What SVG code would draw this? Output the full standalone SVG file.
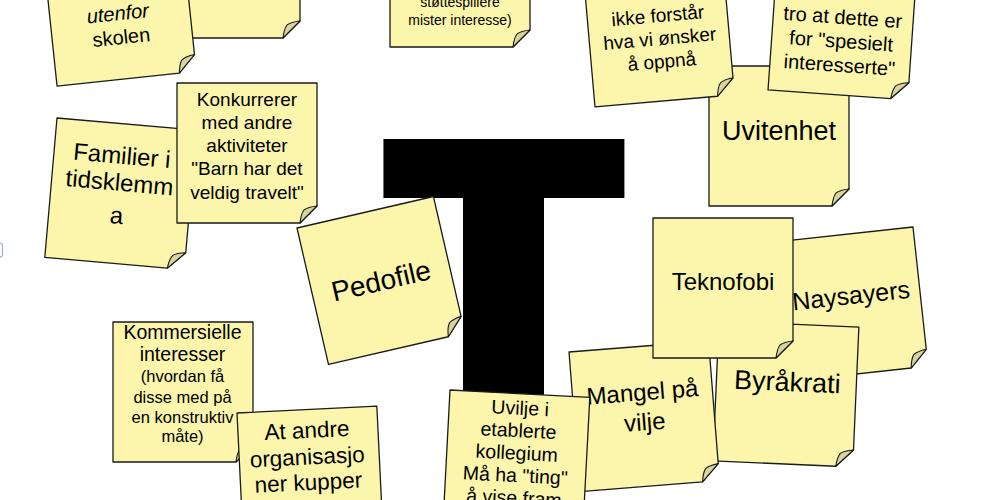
<svg xmlns="http://www.w3.org/2000/svg" xmlns:xlink="http://www.w3.org/1999/xlink" width="1000" height="500" viewBox="0 0 1000 500">
<style>
.paper{fill:#FBF6AB;stroke:#1a1a1a;stroke-width:1.3;stroke-linejoin:round}
.curl{fill:#D9D49B;stroke:#1a1a1a;stroke-width:1.1;stroke-linejoin:round}
text{font-family:"Liberation Sans",Arial,sans-serif;fill:#000;text-anchor:middle}
.big{font-family:"DejaVu Sans",sans-serif;font-weight:bold;stroke:#000;stroke-linejoin:miter}
</style>
<defs>
<path id="paper" d="M0,0 H140 V123 L123,140 H0 Z"/>
<path id="curl" d="M140,123 Q131,124 127,127 Q124,131 123,140 Z"/>
<clipPath id="t-window">
<rect x="0" y="0" width="1000" height="198"/>
<rect x="463" y="0" width="81" height="500"/>
</clipPath>
</defs>
<rect x="0" y="0" width="1000" height="500" fill="#fff"/>
<rect x="-4" y="243" width="6.5" height="14" rx="2.5" fill="none" stroke="#8FB0E0" stroke-width="1.2"/>
<g id="connectors"/>

<g id="note-top" transform="translate(160,-102)">
<use href="#paper" class="paper"/><use href="#curl" class="curl"/>
</g>
<g id="note-utenfor" transform="translate(42.4,-53.2) rotate(-6)">
<use href="#paper" class="paper"/><use href="#curl" class="curl"/>
<text x="68" y="81" font-size="20" font-style="italic">utenfor</text>
<text x="69" y="105" font-size="20">skolen</text>
</g>
<g id="note-stottespillere" transform="translate(390,-93)">
<use href="#paper" class="paper"/><use href="#curl" class="curl"/>
<text x="70" y="100" font-size="14">støttespillere</text>
<text x="70" y="118" font-size="14">mister interesse)</text>
</g>
<g id="note-uvitenhet" transform="translate(709,66)">
<use href="#paper" class="paper"/><use href="#curl" class="curl"/>
<text x="70" y="74" font-size="27">Uvitenhet</text>
</g>
<g id="note-ikke-forstar" transform="translate(582.8,-32.5) rotate(-5)">
<use href="#paper" class="paper"/><use href="#curl" class="curl"/>
<text x="70.5" y="61" font-size="19">ikke forstår</text>
<text x="70.5" y="84" font-size="19">hva vi ønsker</text>
<text x="70.5" y="107" font-size="19">å oppnå</text>
</g>
<g id="note-spesielt" transform="translate(777.8,-49.7) rotate(4)">
<use href="#paper" class="paper"/><use href="#curl" class="curl"/>
<text x="69.5" y="69" font-size="20">tro at dette er</text>
<text x="69.5" y="93" font-size="20">for "spesielt</text>
<text x="69.5" y="117" font-size="20">interesserte"</text>
</g>
<g id="note-familier" transform="translate(57,118) rotate(5)">
<use href="#paper" class="paper"/><use href="#curl" class="curl"/>
<text x="68" y="40" font-size="24">Familier i</text>
<text x="68" y="67" font-size="24">tidsklemm</text>
<text x="68" y="100" font-size="24">a</text>
</g>
<g id="note-konkurrerer" transform="translate(177,83)">
<use href="#paper" class="paper"/><use href="#curl" class="curl"/>
<text x="70" y="22.8" font-size="19">Konkurrerer</text>
<text x="70" y="46" font-size="19">med andre</text>
<text x="70" y="69.2" font-size="19">aktiviteter</text>
<text x="70" y="92.4" font-size="19">"Barn har det</text>
<text x="70" y="115.6" font-size="19">veldig travelt"</text>
</g>
<g id="letter-t" clip-path="url(#t-window)">
<text class="big" x="504" y="384.2" font-size="317" stroke-width="28">T</text>
</g>
<g id="note-pedofile" transform="translate(297,228) rotate(-13)">
<use href="#paper" class="paper"/><use href="#curl" class="curl"/>
<text x="70" y="80" font-size="28">Pedofile</text>
</g>
<g id="note-kommersielle" transform="translate(113,322)">
<use href="#paper" class="paper"/><use href="#curl" class="curl"/>
<text x="69.5" y="16.5" font-size="19.5">Kommersielle</text>
<text x="69.5" y="38.7" font-size="19.5">interesser</text>
<text x="69.5" y="59.7" font-size="16.5">(hvordan få</text>
<text x="69.5" y="81" font-size="16.5">disse med på</text>
<text x="69.5" y="101" font-size="16.5">en konstruktiv</text>
<text x="69.5" y="120" font-size="16.5">måte)</text>
</g>
<g id="note-at-andre" transform="translate(237,413) rotate(-2.8)">
<use href="#paper" class="paper"/><use href="#curl" class="curl"/>
<text x="69" y="28.4" font-size="22.5">At andre</text>
<text x="68" y="55" font-size="22.5">organisasjo</text>
<text x="68" y="80.5" font-size="22.5">ner kupper</text>
</g>
<g id="note-naysayers" transform="translate(773.8,242.1) rotate(-6.2)">
<use href="#paper" class="paper"/><use href="#curl" class="curl"/>
<text x="71" y="70" font-size="25">Naysayers</text>
</g>
<g id="note-byrakrati" transform="translate(719,321) rotate(2.5)">
<use href="#paper" class="paper"/><use href="#curl" class="curl"/>
<text x="71" y="67" font-size="27">Byråkrati</text>
</g>
<g id="note-mangel" transform="translate(569,352) rotate(-4.5)">
<use href="#paper" class="paper"/><use href="#curl" class="curl"/>
<text x="70" y="54" font-size="24">Mangel på</text>
<text x="70" y="84" font-size="24">vilje</text>
</g>
<g id="note-teknofobi" transform="translate(653,218)">
<use href="#paper" class="paper"/><use href="#curl" class="curl"/>
<text x="70" y="72" font-size="24">Teknofobi</text>
</g>
<g id="note-uvilje" transform="translate(450,390) rotate(3)">
<use href="#paper" class="paper"/><use href="#curl" class="curl"/>
<text x="71" y="21" font-size="19.5">Uvilje i</text>
<text x="70.5" y="43.5" font-size="19.5">etablerte</text>
<text x="70" y="66" font-size="19.5">kollegium</text>
<text x="69.7" y="88.5" font-size="19.5">Må ha "ting"</text>
<text x="69.5" y="111" font-size="19.5">å vise fram</text>
</g>
</svg>
